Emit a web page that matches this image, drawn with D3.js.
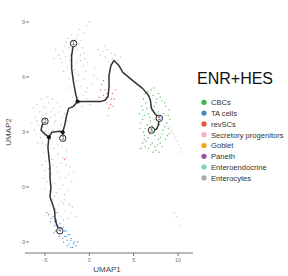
<!DOCTYPE html>
<html><head><meta charset="utf-8">
<script src="https://cdn.jsdelivr.net/npm/d3@7"></script>
<style>body{margin:0;background:#fff}svg{display:block}</style>
</head><body><svg id="c" width="288" height="276"></svg>
<script>
const xTicks=[-5,0,5,10];
const yTicks=[9,6,3,0,-3];
const categories=["CBCs","TA cells","revSCs","Secretory progenitors","Goblet","Paneth","Enteroendocrine","Enterocytes"];
const colors=["#3cb44b","#3d89cc","#e8553e","#f6b3c0","#f5a21b","#a34fae","#82d3b5","#a9a9a9"];
const enterocytes=[[-2.0,8.3],[-1.5,8.1],[-2.6,7.9],[-1.2,7.8],[-2.3,7.6],[-0.8,7.6],[-3.0,7.4],[-1.9,7.3],[-1.0,7.2],[-2.7,7.1],[-0.5,7.0],[-3.3,7.0],[-2.2,6.9],[-1.4,6.8],[-0.7,6.6],[-2.5,6.5],[-1.7,6.4],[-0.4,6.3],[-3.5,7.2],[-1.1,8.6],[0.0,9.0],[-0.3,8.8],
[-2.4,8.1],[-1.7,7.9],[-0.9,8.0],[-2.8,7.7],[-1.4,7.5],[-0.6,7.3],[-2.1,7.2],[-3.1,6.8],[-1.9,6.6],[-1.0,6.9],[-2.9,6.3],[-0.2,6.8],[-3.8,7.5],[-4.0,7.0],[-1.3,8.3],[-0.6,8.4],[-1.5,6.2],
[-1.2,6.1],[-0.6,5.9],[-1.8,5.7],[-0.9,5.5],[-0.2,5.4],[-1.5,5.2],[-0.7,5.0],[-1.9,4.9],[-0.3,4.8],[-1.1,4.6],[0.3,5.6],[0.1,4.5],
[-1.4,5.8],[-2.2,5.4],[-0.4,5.2],[-1.3,4.9],[-0.8,4.4],[-2.3,5.9],[0.5,6.1],
[-5.9,4.5],[-5.2,4.4],[-4.6,4.6],[-4.0,4.3],[-5.6,4.1],[-4.9,4.0],[-3.5,4.1],[-6.1,3.8],[-5.3,3.7],[-4.4,3.8],[-3.8,3.6],[-5.8,3.4],[-4.7,3.4],[-3.2,3.4],[-6.2,3.1],[-5.0,3.0],[-4.1,3.1],[-3.0,3.0],[-5.5,2.7],[-4.4,2.6],[-3.6,2.7],[-2.8,2.5],[-4.8,4.9],[-3.3,4.4],[-2.8,4.0],
[-5.4,4.8],[-4.2,4.8],[-3.6,4.6],[-6.3,4.3],[-5.0,4.3],[-4.3,4.1],[-3.1,3.8],[-5.9,3.6],[-4.0,3.5],[-2.5,3.6],[-6.0,2.9],[-5.2,3.3],[-4.6,2.9],[-3.3,2.6],[-5.8,2.4],[-2.4,2.9],[-6.5,3.5],[-3.9,3.9],
[-4.9,2.3],[-4.0,2.1],[-3.1,2.2],[-5.2,1.9],[-4.5,1.7],[-3.5,1.8],[-2.6,1.6],[-4.9,1.4],[-4.1,1.2],[-3.2,1.3],[-2.2,1.1],[-5.0,0.9],[-4.3,0.7],[-3.6,0.8],[-2.7,0.5],[-4.8,0.3],[-3.9,0.2],[-3.0,0.1],[-2.0,0.3],[-4.5,-0.2],[-3.7,-0.3],[-2.8,-0.4],[-4.1,-0.7],[-3.2,-0.8],[-2.3,-0.9],[-3.8,-1.2],[-2.7,-1.3],[-1.9,-1.1],[-3.3,-1.6],[-2.4,-1.7],
[-5.3,2.4],[-3.6,2.3],[-2.6,2.0],[-4.2,1.5],[-3.0,1.6],[-5.3,1.2],[-3.7,1.1],[-2.6,1.2],[-4.6,1.0],[-3.3,0.5],[-2.3,0.7],[-5.1,0.5],[-4.3,0.1],[-3.4,-0.1],[-2.4,-0.2],[-5.0,-0.1],[-3.9,-0.5],[-2.9,-0.9],[-4.4,-1.0],[-3.5,-1.0],[-2.1,-1.4],[-2.9,-1.8],[-1.6,-1.6],[-1.8,0.8],
[1.5,7.4],[2.0,7.5],[2.5,7.3],[1.8,7.1],[2.9,7.2],[3.2,6.9],[2.2,6.8],[1.2,7.2],[0.6,6.5],[0.9,5.9],[1.7,7.7],[2.6,7.0],[3.5,7.1],[1.0,7.5]];
const taCells=[[-4.6,-1.5],[-4.1,-1.6],[-3.7,-1.8],[-4.4,-1.9],[-3.3,-2.0],[-3.9,-2.1],[-2.9,-2.2],[-3.5,-2.3],[-2.6,-2.4],[-3.1,-2.5],[-2.2,-2.6],[-2.8,-2.7],[-3.4,-2.7],[-2.0,-2.8],[-2.5,-2.9],[-1.7,-3.0],[-2.3,-3.1],[-1.5,-3.2],[-2.9,-3.0],[-1.9,-3.3],[-4.0,-2.5],[-3.6,-1.4],
[-4.3,-1.7],[-3.9,-1.9],[-3.6,-2.1],[-3.2,-2.2],[-2.8,-2.4],[-3.3,-2.4],[-2.4,-2.6],[-3.0,-2.8],[-2.6,-2.7],[-2.1,-2.9],[-1.8,-3.1],[-2.5,-3.2],[-2.1,-3.3],[-1.3,-3.0],[-4.8,-1.4],[-3.8,-2.4],
[6.0,2.4],[5.8,2.1],[6.2,2.6]];
const cbcs=[[6.6,5.2],[7.2,5.0],[7.8,5.1],[6.1,4.8],[6.9,4.7],[7.5,4.6],[8.2,4.7],[8.6,4.4],[5.9,4.4],[6.5,4.3],[7.1,4.2],[7.8,4.1],[8.4,4.0],[8.9,3.9],[6.2,3.9],[6.8,3.8],[7.4,3.7],[8.0,3.6],[8.7,3.5],[5.8,3.5],[6.5,3.4],[7.1,3.3],[7.7,3.2],[8.3,3.1],[8.9,3.2],[6.1,3.0],[6.8,2.9],[7.4,2.8],[8.0,2.7],[8.6,2.6],[6.4,2.5],[7.1,2.4],[7.7,2.3],[8.2,2.2],[6.7,2.1],[7.5,2.0],[9.1,3.7],[9.0,2.9],[5.6,4.0],[7.3,5.4],
[6.3,5.1],[7.0,5.3],[7.6,4.8],[8.0,4.9],[6.4,4.6],[7.3,4.4],[8.5,4.6],[6.0,4.2],[6.7,4.0],[7.6,3.9],[8.2,3.8],[9.0,4.2],[6.0,3.7],[6.9,3.6],[7.9,3.4],[8.5,3.3],[6.3,3.2],[7.3,3.0],[8.2,2.9],[8.8,2.8],[6.6,2.7],[7.8,2.6],[6.9,2.3],[7.4,2.2],[8.0,2.4],[6.3,2.2],[7.2,1.9],[7.9,1.9],[5.7,3.2],[6.2,2.8]];
const revSCs=[[1.4,5.6],[1.8,5.3],[2.3,5.5],[1.6,5.0],[2.1,4.9],[2.6,5.1],[1.9,4.6],[2.4,4.5],[2.8,4.8],[2.2,4.3],[1.1,4.9],[3.0,5.3],[1.6,5.8],[2.0,5.1],[2.5,4.8],[1.3,5.3],[2.7,4.4],[-2.8,1.5]];
const secretory=[[8.8,3.5],[9.1,3.3],[9.3,3.1],[9.5,2.9],[9.7,2.7],[9.9,2.5],[10.1,2.3],[10.3,2.1],[10.4,1.9],[9.2,3.0],[10.3,-2.1]];
const goblet=[[2.1,3.9],[-2.8,-0.7],[-2.2,-1.0]];
const paneth=[];
const enteroendocrine=[[9.8,-1.6],[9.6,-1.4]];
const cellSets=[cbcs,taCells,revSCs,secretory,goblet,paneth,enteroendocrine,enterocytes];
const trajectory=[
 [[-1.78,7.83],[-2.0,7.17],[-2.0,6.47],[-1.78,5.71],[-1.56,5.11],[-1.33,4.67]],
 [[-1.33,4.67],[0,4.67],[1.33,4.67],[1.78,4.73],[2.11,4.95],[2.22,5.43],[2.22,6.09],[2.44,6.63],[2.78,6.9],[3.33,6.63],[3.78,6.25],[5.0,5.76],[6.0,5.38],[6.67,5.0],[6.89,4.73],[7.0,4.29],[7.44,3.97],[7.89,3.75]],
 [[7.89,3.75],[7.78,3.37],[7.56,3.15],[7.0,3.1]],
 [[-1.33,4.67],[-1.78,4.40],[-2.33,4.29],[-2.56,3.91],[-2.78,3.37],[-3.0,2.99]],
 [[-3.0,2.99],[-3.0,2.66]],
 [[-5.0,3.59],[-5.33,3.37],[-5.44,3.1],[-5.0,2.88],[-4.56,2.72]],
 [[-4.56,2.72],[-4.22,2.99],[-3.33,3.04],[-3.0,2.99]],
 [[-4.56,2.72],[-4.67,2.17],[-4.56,1.63],[-4.44,1.09],[-4.44,0.54],[-4.33,-0.05],[-4.44,-0.54],[-4.11,-0.98],[-3.89,-1.36],[-3.89,-1.68],[-3.67,-2.07],[-3.33,-2.39]]];
const leafNodes=[[-1.78,7.83],[-5.0,3.59],[-3.0,2.66],[-3.33,-2.39],[7.89,3.75],[7.0,3.1]];
const leafLabels=["1","2","3","4","5","6"];
const branchNodes=[[-1.33,4.67],[-3.0,2.99],[-4.56,2.72]];

const svg=d3.select("#c");
const x=d3.scaleLinear().domain([-5,10]).range([45,178]);
const y=d3.scaleLinear().domain([-3,9]).range([242,22]);
const font="Liberation Sans, Arial, sans-serif";

cellSets.forEach((pts,i)=>{
  svg.append("g").selectAll("circle").data(pts).join("circle")
   .attr("cx",d=>x(d[0])).attr("cy",d=>y(d[1])).attr("r",0.7)
   .attr("fill",colors[i]).attr("opacity",i===7?0.7:0.9);
});
const line=d3.line().x(d=>x(d[0])).y(d=>y(d[1]));
svg.append("g").selectAll("path").data(trajectory).join("path")
 .attr("d",line).attr("fill","none").attr("stroke","#333").attr("stroke-width",1.5)
 .attr("stroke-linejoin","round").attr("stroke-linecap","round");
svg.append("g").selectAll("circle").data(branchNodes).join("circle")
 .attr("cx",d=>x(d[0])).attr("cy",d=>y(d[1])).attr("r",2).attr("fill","#111");
const lf=svg.append("g").selectAll("g").data(leafNodes).join("g")
 .attr("transform",d=>`translate(${x(d[0])},${y(d[1])})`);
lf.append("circle").attr("r",3.2).attr("fill","#fff").attr("stroke","#222").attr("stroke-width",1);
lf.append("text").text((d,i)=>leafLabels[i]).attr("text-anchor","middle").attr("dy","1.6")
 .attr("font-size",4.5).attr("font-family",font).attr("fill","#222");

const xa=svg.append("g").attr("transform","translate(0,253)");
xa.append("line").attr("x1",25).attr("x2",193).attr("stroke","#777").attr("stroke-width",1);
const xt=xa.selectAll("g.t").data(xTicks).join("g").attr("class","t").attr("transform",d=>`translate(${x(d)},0)`);
xt.append("line").attr("y2",3).attr("stroke","#777");
xt.append("text").text(d=>d).attr("y",9).attr("text-anchor","middle").attr("font-size",5.5).attr("font-family",font).attr("fill","#777");
svg.append("text").text("UMAP1").attr("x",107).attr("y",272).attr("text-anchor","middle").attr("font-size",8).attr("font-family",font).attr("fill","#444");
const yt=svg.append("g").selectAll("g").data(yTicks).join("g").attr("transform",d=>`translate(0,${y(d)})`);
yt.append("line").attr("x1",26).attr("x2",29).attr("stroke","#777");
yt.append("text").text(d=>d).attr("x",25).attr("dy","2").attr("text-anchor","end").attr("font-size",5.5).attr("font-family",font).attr("fill","#777");
svg.append("text").text("UMAP2").attr("transform","translate(11,132) rotate(-90)").attr("text-anchor","middle").attr("font-size",8).attr("font-family",font).attr("fill","#444");

svg.append("text").text("ENR+HES").attr("x",197).attr("y",84).attr("font-size",16).attr("font-family",font).attr("fill","#111");
const lg=svg.append("g").selectAll("g").data(categories).join("g").attr("transform",(d,i)=>`translate(204,${102.3+i*10.8})`);
lg.append("circle").attr("r",2.6).attr("fill",(d,i)=>colors[i]);
lg.append("text").text(d=>d).attr("x",7).attr("dy","2.8").attr("font-size",7.6).attr("font-family",font).attr("fill","#333");
</script></body></html>
